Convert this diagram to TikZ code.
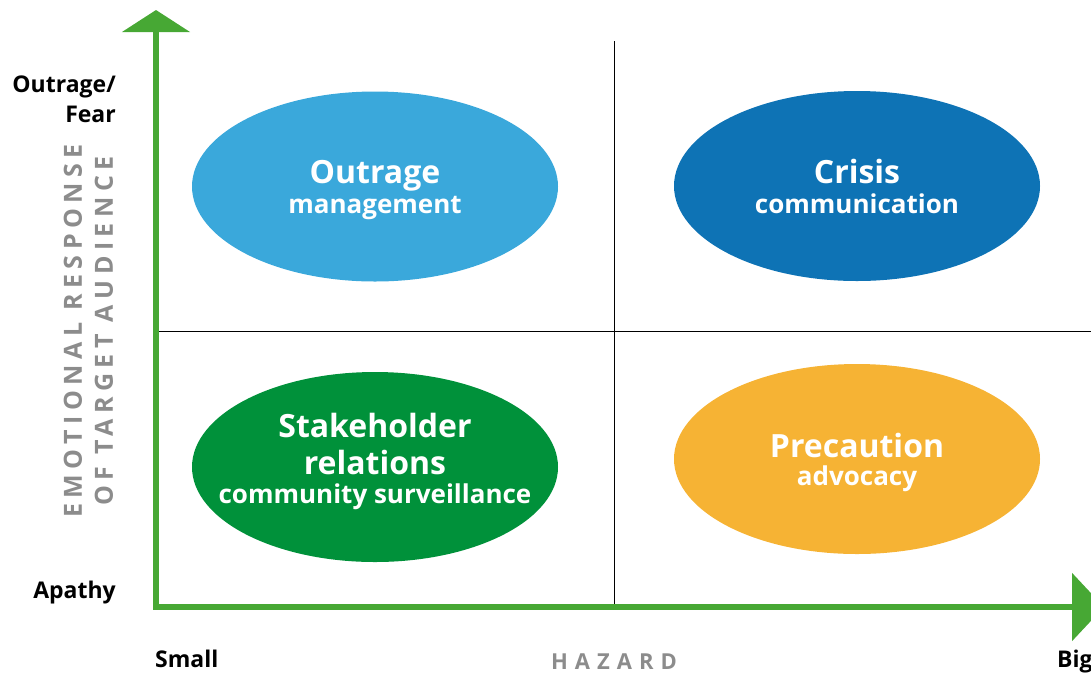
\documentclass[tikz,border=0pt]{standalone}
\usepackage{fontspec}
\setmainfont{Open Sans}
\newfontfamily\spacedfont[LetterSpace=22]{Open Sans}
\newfontfamily\widefont[LetterSpace=32]{Open Sans}
\usetikzlibrary{arrows.meta, shapes.geometric}

\definecolor{axisgreen}{HTML}{47A834}
\definecolor{axisgray}{HTML}{8C8C8C}
\definecolor{outrageblue}{HTML}{3AA8DB}
\definecolor{crisisblue}{HTML}{0E73B5}
\definecolor{stakegreen}{HTML}{00913A}
\definecolor{precorange}{HTML}{F6B334}

\tikzset{
  axis/.style = {draw=axisgreen, line width=6pt, line join=miter},
  quadline/.style = {black, line width=1.3pt},
  bubble/.style = {ellipse, minimum width=366pt, minimum height=190pt, inner sep=0pt},
  bubbletext/.style = {inner sep=0pt, text=white, align=center, font=\bfseries\fontsize{32}{36}\selectfont},
  ticklabel/.style = {inner sep=0pt, font=\bfseries\fontsize{23}{30}\selectfont},
  axistitle/.style = {inner sep=0pt, text=axisgray, font=\spacedfont\bfseries\fontsize{25}{30}\selectfont}
}

\newcommand{\sublabel}[1]{{\fontsize{26}{29}\selectfont #1}}

\begin{document}
\begin{tikzpicture}[x=1pt, y=-1pt]
  \useasboundingbox (0,0) rectangle (1091,673);
  \clip (0,0) rectangle (1091,673);

  % quadrant lines
  \coordinate (midtop) at (614.5,41);
  \coordinate (midbot) at (614.5,607);
  \coordinate (midleft) at (156,331.5);
  \coordinate (midright) at (1091,331.5);
  \draw[quadline] (midtop) -- (midbot);
  \draw[quadline] (midleft) -- (midright);

  % axes
  \coordinate (O) at (156,607);
  \coordinate (ytip) at (156,10);
  \coordinate (xtip) at (1104,607);
  \draw[axis, {Triangle[width=67pt,length=22pt]}-{Triangle[width=67pt,length=32pt]}] (ytip) -- (O) -- (xtip);

  % the four fields
  \node[bubble, fill=outrageblue] (outrage) at (375,186.5) {};
  \node[bubble, fill=crisisblue] (crisis) at (857,186) {};
  \node[bubble, fill=stakegreen] (stake) at (375,467) {};
  \node[bubble, fill=precorange] (precaution) at (857,459) {};

  \node[bubbletext] (outragetxt) at ([yshift=-4pt]outrage.center) {Outrage\\[-6pt]\sublabel{management}};
  \node[bubbletext] (crisistxt) at (crisis.center) {Crisis\\[-6pt]\sublabel{communication}};
  \node[bubbletext] (staketxt) at ([yshift=6pt]stake.center) {Stakeholder\\[1pt]relations\\[-7pt]\sublabel{community surveillance}};
  \node[bubbletext] (precautiontxt) at ([yshift=-3pt]precaution.center) {Precaution\\[-8pt]\sublabel{advocacy}};

  % axis labels
  \node[ticklabel, anchor=base east, align=right] (fear) at (116,122) {Outrage/\\Fear};
  \node[ticklabel, anchor=base east] (apathy) at (116,598) {Apathy};
  \node[ticklabel, anchor=base west] (small) at (155,667) {Small};
  \node[ticklabel, anchor=base west] (big) at (1057,667) {Big};

  \node[axistitle, rotate=90] (emotional) at (73,331) {EMOTIONAL RESPONSE};
  \node[axistitle, rotate=90] (target) at (104,331) {OF TARGET AUDIENCE};
  \node[axistitle, anchor=base, font=\widefont\bfseries\fontsize{22}{26}\selectfont] (hazard) at (614,669) {HAZARD};
\end{tikzpicture}
\end{document}
